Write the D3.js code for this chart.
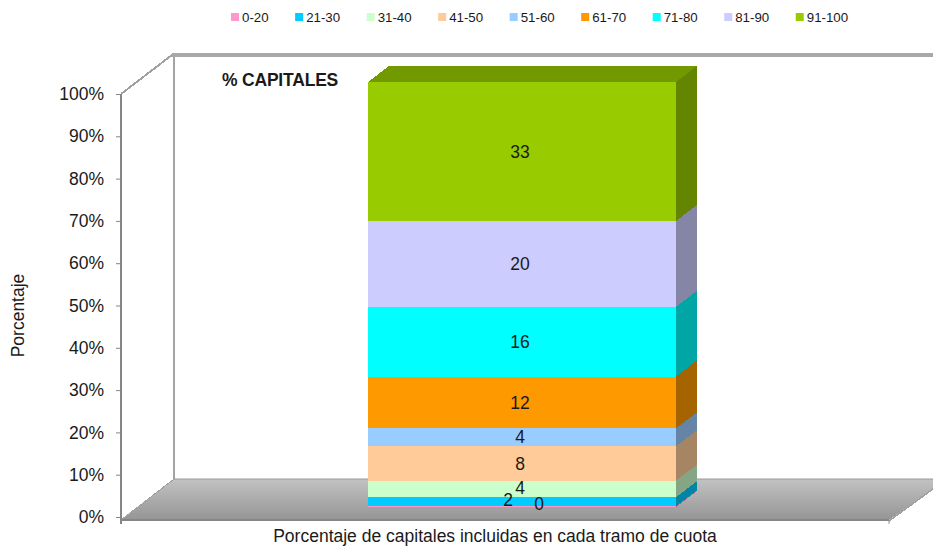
<!DOCTYPE html>
<html>
<head>
<meta charset="utf-8">
<script src="https://d3js.org/d3.v7.min.js"></script>
<style>
  html, body { margin: 0; padding: 0; background: #fff; }
  svg { display: block; }
  text { font-family: "Liberation Sans", Arial, sans-serif; fill: #1a1a1a; }
</style>
</head>
<body>
<svg id="chart" width="933" height="547"></svg>
<script>
// tramos de cuota, bottom to top of the stack
const tramos = ['0-20', '21-30', '31-40', '41-50', '51-60', '61-70', '71-80', '81-90', '91-100'];
const capitales = [0.2, 2.1, 3.9, 8.1, 4.2, 12.2, 16.4, 20.2, 32.7];
const colores = ['#ff99cc', '#00ccff', '#ccffcc', '#ffcc99', '#99ccff', '#ff9900', '#00ffff', '#ccccff', '#99cc00'];
const yTicks = [0, 10, 20, 30, 40, 50, 60, 70, 80, 90, 100];

const svg = d3.select('svg#chart');

// the fake 3d box
const depthX = 53, depthY = 41;
const left = 121, right = 889, floorY = 520, topBack = 56;

const y = d3.scaleLinear().domain([0, 100]).range([517, 94]);
// bar stands halfway into the floor, so it gets its own scale
const yBar = d3.scaleLinear().domain([0, 100]).range([507, 82]);
const barX = d3.scaleBand().domain(['% CAPITALES']).range([368, 676]);
const barDx = 21, barDy = 16;

const color = d3.scaleOrdinal().domain(tramos).range(colores);

const row = {};
tramos.forEach((t, i) => { row[t] = capitales[i]; });
const stacked = d3.stack().keys(tramos)([row]);

const defs = svg.append('defs');
const grad = defs.append('linearGradient')
    .attr('id', 'floor')
    .attr('x1', 0).attr('x2', 0).attr('y1', 0).attr('y2', 1);
grad.append('stop').attr('offset', '0%').attr('stop-color', '#c2c2c2');
grad.append('stop').attr('offset', '100%').attr('stop-color', '#959595');

// floor, cut off by the window on the right
const floorPts = [
    [left + depthX, floorY - depthY],
    [933, floorY - depthY],
    [933, floorY - depthY + 10],
    [right, floorY],
    [left, floorY]
];
svg.append('path')
    .attr('d', 'M' + floorPts.join('L') + 'Z')
    .attr('fill', 'url(#floor)');

// walls
const walls = svg.append('g').attr('fill', 'none').attr('stroke', '#868686');
walls.append('line').attr('x1', left + depthX).attr('x2', 933)
    .attr('y1', floorY - depthY).attr('y2', floorY - depthY)
    .attr('stroke', '#9a9a9a').attr('stroke-width', 1);
walls.append('line').attr('x1', left + depthX).attr('x2', left + depthX)
    .attr('y1', topBack).attr('y2', floorY - depthY).attr('stroke-width', 1.5);
walls.append('line').attr('x1', left + depthX - 2).attr('x2', 933)
    .attr('y1', topBack - 1).attr('y2', topBack - 1)
    .attr('stroke', '#a8a8a8').attr('stroke-width', 4);
walls.append('line').attr('x1', left).attr('x2', left + depthX - 2)
    .attr('y1', y(100)).attr('y2', topBack - 1)
    .attr('stroke', '#a0a0a0').attr('stroke-width', 2)
    .attr('shape-rendering', 'crispEdges');
walls.append('line').attr('x1', left).attr('x2', left + depthX)
    .attr('y1', floorY).attr('y2', floorY - depthY)
    .attr('stroke', '#a0a0a0').attr('stroke-width', 1)
    .attr('shape-rendering', 'crispEdges');
walls.append('line').attr('x1', right).attr('x2', 933)
    .attr('y1', floorY + 1).attr('y2', floorY - depthY + 10)
    .attr('stroke', '#a0a0a0').attr('stroke-width', 1.5)
    .attr('shape-rendering', 'crispEdges');
walls.append('line').attr('x1', right).attr('x2', right)
    .attr('y1', floorY).attr('y2', floorY + 4).attr('stroke', '#999');
walls.append('line').attr('x1', left).attr('x2', right)
    .attr('y1', floorY).attr('y2', floorY).attr('stroke-width', 2);

// y axis
const yAxis = d3.axisLeft(y)
    .tickValues(yTicks)
    .tickFormat(d => d + '%')
    .tickSize(5)
    .tickPadding(12);
const ax = svg.append('g')
    .attr('transform', `translate(${left},0)`)
    .call(yAxis);
ax.select('.domain')
    .attr('d', `M0,${y(100)}V${floorY + 4}`)
    .attr('stroke', '#868686').attr('stroke-width', 2);
ax.selectAll('.tick line').attr('stroke', '#868686');
ax.selectAll('.tick text')
    .attr('font-size', 17.5)
    .attr('font-family', '"Liberation Sans", Arial, sans-serif')
    .attr('fill', '#1a1a1a');

// bar, one slab per tramo
const x0 = barX.range()[0], x1 = barX.range()[1];
const slabs = svg.append('g')
    .selectAll('g')
    .data(stacked)
    .enter().append('g')
    .attr('shape-rendering', 'crispEdges');

slabs.append('rect')
    .attr('x', x0)
    .attr('width', x1 - x0)
    .attr('y', d => yBar(d[0][1]))
    .attr('height', d => yBar(d[0][0]) - yBar(d[0][1]))
    .attr('fill', d => color(d.key));

slabs.append('path')
    .attr('d', d => {
        const a = yBar(d[0][0]), b = yBar(d[0][1]);
        return `M${x1},${a}L${x1 + barDx},${a - barDy}L${x1 + barDx},${b - barDy}L${x1},${b}Z`;
    })
    .attr('fill', d => d3.rgb(color(d.key)).darker(1.2));

// only the top slab shows its lid
svg.append('path')
    .datum(stacked[stacked.length - 1])
    .attr('d', d => {
        const b = yBar(d[0][1]);
        return `M${x0},${b}L${x0 + barDx},${b - barDy}L${x1 + barDx},${b - barDy}L${x1},${b}Z`;
    })
    .attr('fill', d => d3.rgb(color(d.key)).darker(0.8))
    .attr('shape-rendering', 'crispEdges');

// value labels; the smallest ones are nudged like the original so they dont overlap
const nudge = { '0-20': [19, -3], '21-30': [-12, -2], '31-40': [0, -1] };
svg.append('g')
    .selectAll('text')
    .data(stacked)
    .enter().append('text')
    .attr('x', d => (x0 + x1) / 2 - 2 + (nudge[d.key] ? nudge[d.key][0] : 0))
    .attr('y', d => (yBar(d[0][0]) + yBar(d[0][1])) / 2 + (nudge[d.key] ? nudge[d.key][1] : 0))
    .attr('dy', '0.35em')
    .attr('text-anchor', 'middle')
    .attr('font-size', 17.5)
    .text(d => Math.round(d[0].data[d.key]));

// series title inside the plot
svg.append('text')
    .attr('x', 222)
    .attr('y', 85.5)
    .attr('font-size', 17.5)
    .attr('font-weight', 'bold')
    .attr('letter-spacing', '-0.2')
    .text('% CAPITALES');

// axis titles
svg.append('text')
    .attr('text-anchor', 'middle')
    .attr('transform', 'translate(24,315.5) rotate(-90)')
    .attr('font-size', 17.5)
    .text('Porcentaje');

svg.append('text')
    .attr('x', 495)
    .attr('y', 542)
    .attr('text-anchor', 'middle')
    .attr('font-size', 17.5)
    .text('Porcentaje de capitales incluidas en cada tramo de cuota');

// legend, laid out one after the other
let cursor = 231;
const legend = svg.append('g');
tramos.forEach(function(t) {
    legend.append('rect')
        .attr('x', cursor).attr('y', 13)
        .attr('width', 8).attr('height', 8)
        .attr('fill', color(t));
    const label = legend.append('text')
        .attr('x', cursor + 11).attr('y', 22)
        .attr('font-size', 13.3)
        .text(t);
    cursor += label.node().getComputedTextLength() + 37.5;
});
</script>
</body>
</html>
